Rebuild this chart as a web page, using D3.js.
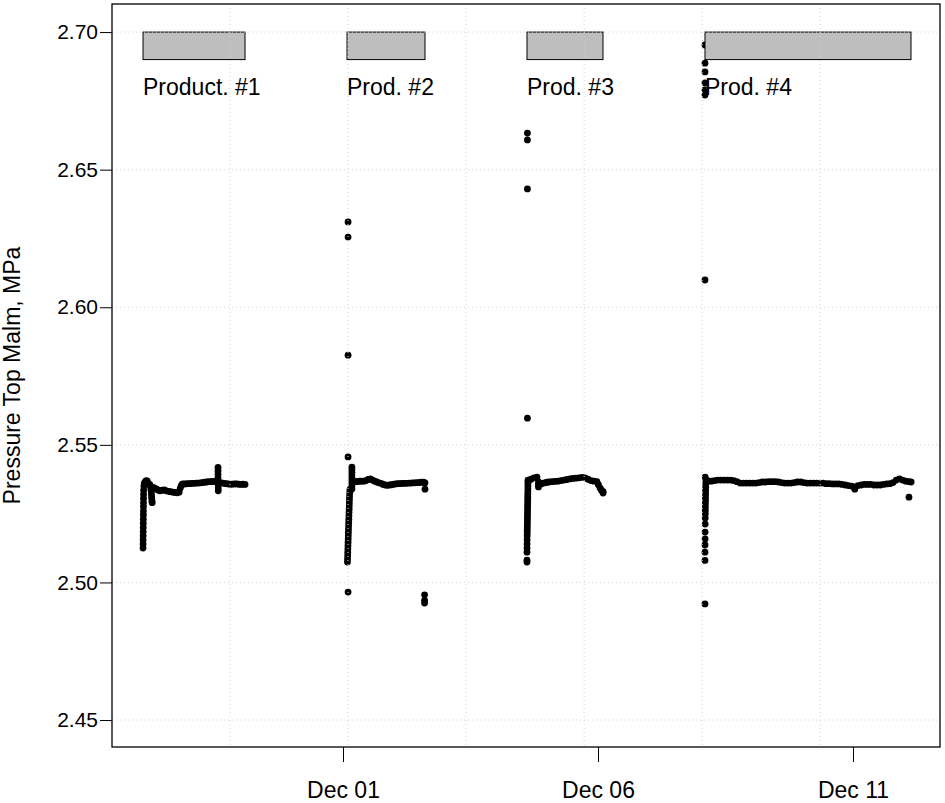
<!DOCTYPE html>
<meta charset="utf-8">
<style>

body {
  margin: 0;
  font-family: "Liberation Sans", Arial, sans-serif;
}

.grid line {
  stroke: #d3d3d3;
  stroke-width: 1px;
  stroke-dasharray: 1,3;
}

.prod {
  fill: #bebebe;
  stroke: #000;
  stroke-width: 1px;
}

.dot {
  fill: #000;
}

</style>
<body>
<script src="https://cdn.jsdelivr.net/npm/d3@7"></script>
<script>

// product campaigns (label, start, end)
var prodLabels = ["Product. #1", "Prod. #2", "Prod. #3", "Prod. #4"];
var prodStart = ["2011-11-27 01:53", "2011-12-01 01:53", "2011-12-04 14:35", "2011-12-08 02:21"];
var prodEnd   = ["2011-11-29 01:53", "2011-12-02 14:35", "2011-12-06 02:21", "2011-12-12 03:18"];

// axis ticks
var yTicks = [2.45, 2.50, 2.55, 2.60, 2.65, 2.70];
var xTicks = ["2011-12-01 00:00", "2011-12-06 00:00", "2011-12-11 00:00"];
var xTickLabels = ["Dec 01", "Dec 06", "Dec 11"];
var xGrid = ["2011-11-28 18:48", "2011-12-01 02:21", "2011-12-03 09:54",
             "2011-12-05 17:28", "2011-12-08 01:01", "2011-12-10 08:34"];

// pressure readings: [hours after product start, MPa]
var prod1 = [
  [0,2.5125],[0.02,2.514],[0.04,2.5155],[0.06,2.517],[0.08,2.5185],[0.1,2.52],[0.12,2.5215],
  [0.14,2.523],[0.16,2.5245],[0.18,2.526],[0.2,2.5275],[0.22,2.529],[0.24,2.5305],[0.26,2.532],
  [0.3,2.5335],[0.4,2.535],[0.6,2.536],[1.0,2.5365],[1.5,2.537],[2.0,2.5368],[2.5,2.536],
  [3.2,2.5355],[3.6,2.5345],[3.8,2.5335],[3.9,2.5325],[4.0,2.5315],[4.1,2.5305],[4.2,2.5295],[4.3,2.529],
  [4.8,2.5345],[5.5,2.5342],[6.2,2.534],[7,2.5336],[8,2.5333],[9,2.5335],[10,2.5336],[11,2.5333],
  [12,2.5331],[13,2.533],[14,2.5328],[15,2.5327],[16,2.5326],[17,2.5328],
  [17.5,2.5342],[18,2.5352],[18.5,2.5357],[19,2.5358],[20,2.5358],[21,2.5359],[22,2.5359],
  [23,2.536],[24,2.536],[25,2.5361],[26,2.5361],[27,2.5362],[28,2.5363],[29,2.5364],
  [30,2.5365],[31,2.5366],[32,2.5366],[33,2.5367],[34,2.5367],
  [35.3,2.5418],[35.3,2.5405],[35.3,2.5393],[35.3,2.538],[35.4,2.5368],[35.4,2.5355],[35.4,2.5343],[35.4,2.5333],
  [36,2.5362],[37,2.5362],[38,2.536],[39,2.5359],[40,2.5358],[41,2.5357],[42,2.5357],
  [43,2.5358],[44,2.5358],[45,2.5357],[46,2.5356],[47,2.5357],[48,2.5356]
];

var prod2 = [
  [0.5,2.6310],[0.5,2.6255],[0.5,2.5826],[0.5,2.5456],[0.5,2.4965],
  [0.2,2.5074],[0.25,2.5085],[0.3,2.5097],[0.35,2.511],[0.4,2.5122],[0.45,2.5134],[0.5,2.5146],
  [0.55,2.5158],[0.6,2.517],[0.65,2.5182],[0.7,2.5194],[0.75,2.5206],[0.8,2.5218],[0.85,2.523],
  [0.9,2.5242],[0.95,2.5254],[1.0,2.5266],[1.05,2.5278],[1.1,2.529],[1.15,2.5302],[1.2,2.5314],
  [1.3,2.5326],[1.4,2.5338],
  [2.3,2.5419],[2.3,2.541],[2.3,2.54],[2.3,2.539],[2.3,2.538],[2.3,2.537],[2.3,2.536],[2.3,2.535],[2.3,2.534],
  [3,2.5365],[4,2.5366],[5,2.5367],[6,2.5368],[7,2.5368],[8,2.5368],[9,2.537],[10,2.5374],
  [11,2.5376],[12,2.5372],[13,2.5368],[14,2.5365],[15,2.5362],[16,2.536],[17,2.5356],[18,2.5354],
  [19,2.5353],[20,2.5354],[21,2.5355],[22,2.5357],[23,2.5358],[24,2.5359],[25,2.5359],[26,2.536],
  [27,2.536],[28,2.536],[29,2.5361],[30,2.5361],[31,2.5362],[32,2.5362],[33,2.5363],[34,2.5363],
  [35,2.5364],[36,2.5364],[36.7,2.5362],[36.7,2.5339],
  [36.5,2.4955],[36.5,2.4935],[36.5,2.4925]
];

var prod3 = [
  [0.2,2.6633],[0.2,2.6608],[0.2,2.6430],[0.2,2.5597],
  [0,2.5074],[0,2.5081],[0,2.511],[0.02,2.5125],[0.04,2.514],[0.06,2.5155],[0.08,2.517],[0.1,2.518],
  [0.12,2.519],[0.14,2.52],[0.16,2.521],[0.18,2.522],[0.2,2.523],[0.22,2.524],[0.24,2.525],
  [0.26,2.526],[0.28,2.527],[0.3,2.528],[0.32,2.529],[0.34,2.53],[0.36,2.531],[0.38,2.532],
  [0.4,2.533],[0.42,2.534],[0.44,2.535],[0.46,2.536],[0.48,2.5372],
  [0.5,2.5368],[1.9,2.5375],[3.3,2.538],[4.7,2.5383],[5.4,2.5365],[5.4,2.5355],[5.4,2.5347],
  [6.6,2.5358],[7.5,2.5361],[8.5,2.5362],[9.4,2.5364],[10.4,2.5365],[11.8,2.5366],[13.2,2.5367],
  [14.6,2.5368],[16,2.537],[17.4,2.5372],[18.8,2.5374],[20.2,2.5376],[21.6,2.5378],[23,2.5379],
  [24.5,2.538],[25.9,2.5382],[27.3,2.538],[28.7,2.5375],[30.1,2.537],[31.5,2.5368],[32.9,2.5366],
  [33.6,2.5355],[34.4,2.5343],[35,2.5335],[35.8,2.5325],[35.8,2.533]
];

var prod4 = [
  [0,2.6953],[0,2.6887],[0,2.6855],[0,2.6815],[0,2.679],[0,2.6771],[0,2.6099],[0,2.4922],
  [0,2.508],[0,2.511],[0,2.5136],[0.05,2.5158],[0.05,2.5183],[0.1,2.5212],[0.1,2.5234],[0.15,2.525],
  [0.15,2.5262],[0.2,2.5274],[0.2,2.5286],[0.25,2.5298],[0.25,2.531],[0.3,2.5322],[0.3,2.5334],
  [0.35,2.5346],[0.35,2.5358],[0.4,2.537],[0.1,2.5383],[0.8,2.5372],
  [1.5,2.5368],[3,2.5368],[4.5,2.537],[6,2.5372],[7.5,2.5372],[9,2.5372],[10.5,2.5372],[12,2.5372],
  [13.5,2.537],[15,2.5366],[16.5,2.5361],[18,2.5361],[19.5,2.5361],[21,2.5361],[22.5,2.5361],
  [24,2.5361],[25.5,2.5363],[27,2.5365],[28.5,2.5365],[30,2.5366],[31.5,2.5366],[33,2.5366],
  [34.5,2.5365],[36,2.5363],[37.5,2.5361],[39,2.5361],[40.5,2.5361],[42,2.5363],[43.5,2.5365],
  [45,2.5365],[46.5,2.5363],[48,2.5361],[49.5,2.5361],[51,2.5361],[52.5,2.5361],[54,2.5361],
  [55.5,2.5361],[57,2.5359],[58.5,2.5359],[60,2.5358],[61.5,2.5358],[63,2.5358],[64.5,2.5356],
  [66,2.5354],[67.5,2.5352],[69,2.535],[70.5,2.5347],[70.5,2.5339],[72,2.5352],[73.5,2.5354],
  [75,2.5356],[76.5,2.5356],[78,2.5356],[79.5,2.5354],[81,2.5354],[82.5,2.5354],[84,2.5356],
  [85.5,2.5358],[87,2.5359],[88.5,2.5363],[90,2.5372],[91.5,2.5376],[93,2.5372],[94.5,2.5368],
  [96,2.5366],[97,2.5365],[96,2.531]
];

var prodData = [prod1, prod2, prod3, prod4];

var parseTime = d3.timeParse("%Y-%m-%d %H:%M");

var W = 945, H = 803;
var plot = {left: 112, right: 940, top: 4, bottom: 747};
var fontSize = "23px";

var x = d3.scaleTime()
    .domain([parseTime("2011-11-26 11:17"), parseTime("2011-12-12 16:57")])
    .range([plot.left, plot.right]);

var y = d3.scaleLinear()
    .domain([2.4402, 2.7102])
    .range([plot.bottom, plot.top]);

var svg = d3.select("body").append("svg")
    .attr("width", W)
    .attr("height", H)
    .style("background", "#fff");

// flatten readings
var points = [];
prodData.forEach(function(arr, i) {
  var t0 = parseTime(prodStart[i]).getTime();
  arr.forEach(function(p) {
    points.push({t: new Date(t0 + p[0] * 3600e3), v: p[1]});
  });
});

svg.append("g")
  .selectAll("circle")
    .data(points)
  .enter().append("circle")
    .attr("class", "dot")
    .attr("cx", function(d) { return x(d.t); })
    .attr("cy", function(d) { return y(d.v); })
    .attr("r", 3.4);

// product bars + labels
var prods = prodLabels.map(function(l, i) {
  return {label: l, start: parseTime(prodStart[i]), end: parseTime(prodEnd[i])};
});

svg.append("g")
  .selectAll("rect")
    .data(prods)
  .enter().append("rect")
    .attr("class", "prod")
    .attr("x", function(d) { return x(d.start); })
    .attr("y", y(2.70))
    .attr("width", function(d) { return x(d.end) - x(d.start); })
    .attr("height", y(2.69) - y(2.70));

svg.append("g")
  .selectAll("text")
    .data(prods)
  .enter().append("text")
    .attr("x", function(d) { return x(d.start); })
    .attr("y", y(2.68))
    .attr("dy", "0.35em")
    .style("font-size", fontSize)
    .text(function(d) { return d.label; });

// grid (drawn on top, as in the original)
var grid = svg.append("g").attr("class", "grid");
grid.selectAll(".h")
    .data(yTicks)
  .enter().append("line")
    .attr("x1", plot.left).attr("x2", plot.right)
    .attr("y1", function(d) { return y(d); })
    .attr("y2", function(d) { return y(d); });
grid.selectAll(".v")
    .data(xGrid)
  .enter().append("line")
    .attr("y1", plot.top).attr("y2", plot.bottom)
    .attr("x1", function(d) { return x(parseTime(d)); })
    .attr("x2", function(d) { return x(parseTime(d)); });

// axes
var yAxis = d3.axisLeft(y)
    .tickValues(yTicks)
    .tickSize(12)
    .tickPadding(2)
    .tickFormat(d3.format(".2f"));

var xAxis = d3.axisBottom(x)
    .tickValues(xTicks.map(parseTime))
    .tickSize(15)
    .tickPadding(20)
    .tickFormat(function(d, i) { return xTickLabels[i]; });

function styleAxis(g, size) {
  g.select(".domain").remove();
  g.selectAll(".tick text")
      .style("font-size", size)
      .style("font-family", "Liberation Sans, Arial, sans-serif")
      .attr("fill", "#000");
  g.selectAll(".tick line").attr("stroke", "#000");
}

svg.append("g")
    .attr("transform", "translate(" + plot.left + ",0)")
    .call(yAxis)
    .call(styleAxis, "21px");

svg.append("g")
    .attr("transform", "translate(0," + plot.bottom + ")")
    .call(xAxis)
    .call(styleAxis, fontSize);

// box
svg.append("rect")
    .attr("x", plot.left)
    .attr("y", plot.top)
    .attr("width", plot.right - plot.left)
    .attr("height", plot.bottom - plot.top)
    .attr("fill", "none")
    .attr("stroke", "#000")
    .attr("stroke-width", 1.3);

svg.append("text")
    .attr("transform", "translate(20," + ((plot.top + plot.bottom) / 2) + ") rotate(-90)")
    .attr("text-anchor", "middle")
    .style("font-size", fontSize)
    .text("Pressure Top Malm, MPa");

</script>
